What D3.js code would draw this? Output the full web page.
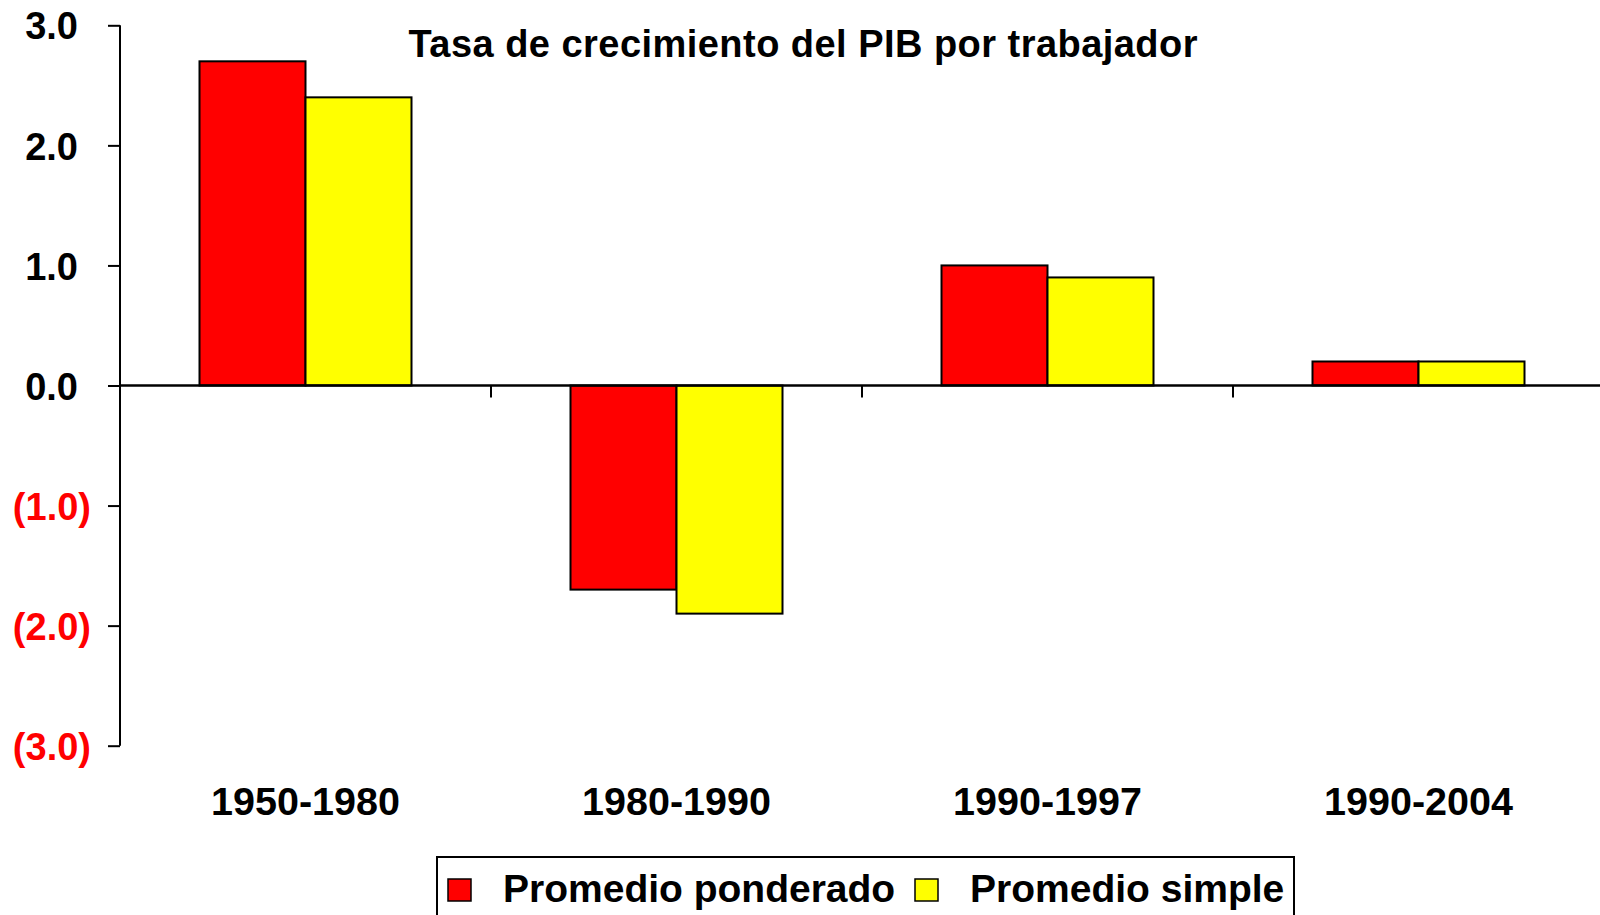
<!DOCTYPE html>
<html>
<head>
<meta charset="utf-8">
<script src="https://cdn.jsdelivr.net/npm/d3@7"></script>
<style>
  body { margin: 0; background: #fff; }
  svg text { font-family: "Liberation Sans", Arial, sans-serif; font-weight: bold; }
</style>
</head>
<body>
<div id="chart"></div>
<script>
// data
const periods = ['1950-1980', '1980-1990', '1990-1997', '1990-2004']
const seriesNames = ['Promedio ponderado', 'Promedio simple']
const ponderado = [2.7, -1.7, 1.0, 0.2]
const simple = [2.4, -1.9, 0.9, 0.2]
const yTicks = [-3, -2, -1, 0, 1, 2, 3]
const colors = ['#ff0000', '#ffff00']

const W = 1600, H = 915

const svg = d3.select('#chart').append('svg')
  .attr('width', W)
  .attr('height', H)

// scales
const y = d3.scaleLinear().domain([-3, 3]).range([745.7, 25.3])
const x0 = d3.scaleBand().domain(periods).range([120, 1604])
const bw = x0.bandwidth() / 3.5
const x1 = d3.scaleBand().domain(seriesNames).range([0, 2 * bw])

// y axis
const fmt = d => d < 0 ? `(${Math.abs(d).toFixed(1)})` : d.toFixed(1)
const yAxis = svg.append('g')
  .attr('transform', 'translate(120,0)')
  .call(d3.axisLeft(y).tickValues(yTicks).tickSize(12).tickPadding(17).tickFormat(fmt))

yAxis.select('.domain').attr('stroke', '#000').attr('stroke-width', 2)
  .attr('d', `M0,${y(3)}V${y(-3)}`)
yAxis.selectAll('.tick line').attr('stroke', '#000').attr('stroke-width', 2)
yAxis.selectAll('.tick text')
  .attr('font-size', 38)
  .attr('dy', '0.36em')
  .attr('dx', d => d < 0 ? 0 : -13) // room for the ")" like excel does
  .attr('fill', d => d < 0 ? '#ff0000' : '#000')

// bars
const rows = periods.map((p, i) => ({ p, vals: [ponderado[i], simple[i]] }))

const groups = svg.append('g').selectAll('g')
  .data(rows)
  .join('g')
  .attr('transform', d => `translate(${x0(d.p) + (x0.bandwidth() - 2 * bw) / 2},0)`)

groups.selectAll('rect')
  .data(d => d.vals.map((v, j) => ({ v, s: seriesNames[j], j })))
  .join('rect')
  .attr('x', d => x1(d.s))
  .attr('width', x1.bandwidth())
  .attr('y', d => y(Math.max(0, d.v)))
  .attr('height', d => Math.abs(y(d.v) - y(0)))
  .attr('fill', d => colors[d.j])
  .attr('stroke', '#000')
  .attr('stroke-width', 2)

// zero line with category ticks
svg.append('line')
  .attr('x1', 120).attr('x2', W)
  .attr('y1', y(0)).attr('y2', y(0))
  .attr('stroke', '#000').attr('stroke-width', 2.5)

svg.append('g').selectAll('line')
  .data(periods.slice(1))
  .join('line')
  .attr('x1', d => x0(d)).attr('x2', d => x0(d))
  .attr('y1', y(0)).attr('y2', y(0) + 12)
  .attr('stroke', '#000').attr('stroke-width', 2)

// category labels
svg.append('g').selectAll('text')
  .data(periods)
  .join('text')
  .attr('x', d => x0(d) + x0.bandwidth() / 2)
  .attr('y', 815)
  .attr('text-anchor', 'middle')
  .attr('font-size', 39.5)
  .text(d => d)

// title
svg.append('text')
  .attr('x', 803)
  .attr('y', 57)
  .attr('text-anchor', 'middle')
  .attr('font-size', 38)
  .attr('textLength', 789)
  .attr('lengthAdjust', 'spacing')
  .text('Tasa de crecimiento del PIB por trabajador')

// legend
const leg = svg.append('g')
leg.append('rect')
  .attr('x', 437).attr('y', 857)
  .attr('width', 857).attr('height', 80)
  .attr('fill', '#fff')
  .attr('stroke', '#000').attr('stroke-width', 2)

const legX = [448, 915]
const legItems = leg.selectAll('g.item')
  .data(seriesNames)
  .join('g')
  .attr('class', 'item')
  .attr('transform', (d, i) => `translate(${legX[i]},0)`)

legItems.append('rect')
  .attr('x', 0).attr('y', 879)
  .attr('width', 23).attr('height', 22)
  .attr('fill', (d, i) => colors[i])
  .attr('stroke', '#000').attr('stroke-width', 1.5)

legItems.append('text')
  .attr('x', 55)
  .attr('y', 902)
  .attr('font-size', 39)
  .text(d => d)
</script>
</body>
</html>
